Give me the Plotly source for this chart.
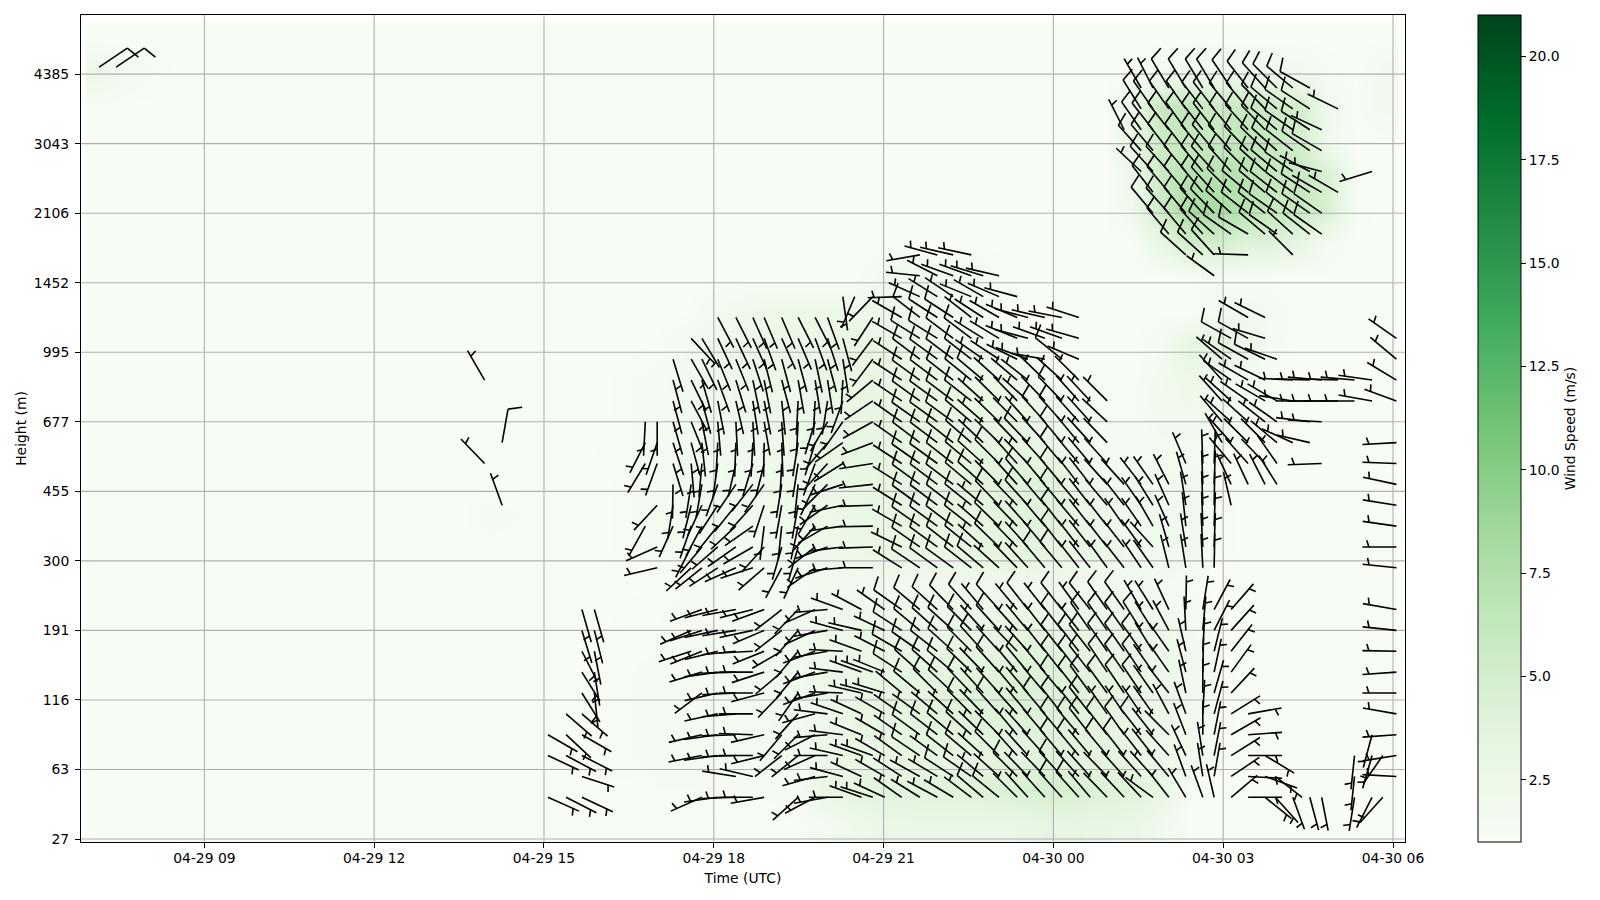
import math
import plotly.graph_objects as go

# Time is hours relative to 04-30 00 UTC; height is range-gate index.
X_TICKS = [-15, -12, -9, -6, -3, 0, 3, 6]
X_LABELS = ["04-29 09", "04-29 12", "04-29 15", "04-29 18", "04-29 21", "04-30 00", "04-30 03", "04-30 06"]
Y_TICKS = [0, 10, 20, 30, 40, 50, 60, 70, 80, 90, 100, 110]
Y_LABELS = ["27", "63", "116", "191", "300", "455", "677", "995", "1452", "2106", "3043", "4385"]

# Wind-speed field, coarse reading of the shading (bottom row first).
HEAT = [
[1]*26 + [1.5,2.2,2.8,2.8,2.8,2.8,2.8,3,3.2,3.2,3,2.8,2,1,1,1,1,1,1,1,1],
[1]*20 + [1.2,1.2,1.2,1.3,1.3,1.5,3,3.5,3.8,3.8,4,4,4.2,4.5,4.8,4.5,4.2,4,3.2,1.3,1,1,1,1,1,1,1],
[1]*18 + [1.2,1.2,1.3,1.3,1.4,1.5,1.5,1.7,2.5,3,3,3.2,3.2,3.2,3.5,3.5,4,3.5,3.5,3,2.5,2,1.2,1,1,1,1,1,1],
[1]*18 + [1.2,1.2,1.3,1.3,1.4,1.5,1.6,2,2.5,3,3.2,3.5,4,4,4,4,4,4,3.5,3,2.5,2,1.2,1,1,1,1,1,1],
[1]*18 + [1.2,1.2,1.3,1.3,1.4,1.5,1.7,2,2.5,3,3.2,3.5,3.5,4,4,4.5,4.2,4,3.5,3,2.5,2,1.2,1,1,1,1,1,1],
[1]*18 + [1.1,1.2,1.2,1.3,1.4,1.5,1.7,2,2.5,2.8,3,3.2,3.2,3.5,3.5,4,4,3.5,3.2,3,2.5,2,1.2,1,1,1,1,1,1],
[1]*19 + [1.2,1.2,1.3,1.3,1.4,1.7,2,2.2,2.5,2.5,2.5,2.5,2.8,3,3,3,2.8,2.8,2.5,2.2,1.5,1,1,1,1,1,1,1],
[1]*20 + [1.1,1.2,1.2,1.3,1.3,1.5,1.8,1.8,1.8,1.8,2,2,2,2,2,2,2,1.8,1.5,1.2,1,1,1,1,1,1,1],
[1]*19 + [1.2,1.3,1.4,1.5,1.6,1.7,1.8,2.5,2.5,3,3,3,3.2,3.5,3.5,3.5,3,2.5,2,2,2,1.2,1,1,1,1,1,1,1],
[1]*14 + [1.4,1.2,1,1,1,1.2,1.5,1.6,1.8,1.8,2,2,2.5,2.8,3,3.2,3.2,3.2,3.5,3.8,4,3,2.5,2,2,2,1.2,1,1,1,1,1,1],
[1]*19 + [1.2,1.5,1.7,1.8,2,2.2,2.3,2.8,3,3.2,3.2,3.2,3.5,3.8,4,4,3,2,1.8,1.5,2,1.3,1,1,1,1,1,1],
[1]*18 + [1.1,1.2,1.5,1.8,1.9,2,2.2,2.5,3,3,3.2,3.2,3.2,3.5,3.5,3.5,3.2,2,1.3,1.3,1.5,1.5,1.3,1,1,1,1,1,1],
[1]*19 + [1.2,1.4,1.8,2,2.2,2.5,2.5,2.8,3,3,3.2,3.2,3,3.2,3.2,2.8,1.5,1.2,1.2,1.8,2,2,1.5,1.2,1,1,1,1],
[1]*19 + [1.2,1.3,1.8,2,2.5,2.5,2.5,3,3,3,3.2,3,3,2.8,2.2,1.5,1,1,1,1.8,2.5,1.8,1.5,1.2,1,1,1,1],
[1]*20 + [1.1,1.6,2.2,2.5,2.8,2.8,3,3,3,2.8,2.5,2.2,2,1.5,1.1,1,1,1,1.5,3.2,3.8,2.5,1.3,1,1,1,1,1],
[1]*22 + [1.5,2,2.5,2.5,2.5,2.5,2.5,2.3,2,1.5,1.2,1.1,1,1,1,1,1,1,1.5,2,1.5,1,1,1,1,1,1],
[1]*28 + [1.8,2,2,1.7,1.3,1,1,1,1,1,1,1,1.5,1.2,1,1,1,1,1,1,1],
[1]*38 + [3,5,5,4,4,3,1.5,1,1],
[1]*37 + [2,5.5,8,8,7,6,6,4.5,1.2,1],
[1]*37 + [2.5,5.5,7,7,7,6,6,4.5,1.2,1],
[1]*37 + [3,5.5,6,6,6.5,6,5,2,1,1],
[1]*37 + [2.5,6,6.5,5.5,6,5.5,5,2,1.1,1.8],
[2.5,1.5,1.2] + [1]*35 + [1.5,2.2,2.2,2.2,2.2,1.8,1.2,1,1.8],
[1]*47,
]

# Barb columns: time, lowest gate, then direction (deg from) and speed (m/s)
# for every third gate upward.
BARB_TIME = [-16.86, -16.56, -10.05, -9.74, -8.93, -8.61, -8.33, -8.11, -7.21, -7.00, -6.72, -6.40,
             -6.21, -5.93, -5.61, -5.31, -5.11, -4.80, -4.51, -4.21, -3.99,
             -3.72, -3.51, -3.39, -3.19, -2.98, -2.68, -2.36, -2.05, -1.77, -1.45, -1.24, -0.96,
             -0.64, -0.45, -0.15, 0.15, 0.45, 0.65, 0.95, 1.25, 1.55, 1.76, 2.04, 2.34, 2.64, 2.84,
             3.14, 3.44, 3.74, 3.92, 4.23, 4.53, 4.74, 5.03, 5.32, 5.63, 5.82, 6.06,
             1.25, 1.55, 1.76, 2.04, 2.34, 2.64, 2.84, 3.14, 3.44, 3.74, 3.95, 4.23, 4.53, 4.74, 5.03, 5.63,
             3.14, 3.44, 3.74, 3.95, 4.23, 4.53, 4.74, 5.03, 5.32, 5.63, 2.98]
BARB_START = [111, 111, 54, 48, 6, 6, 6, 21, 45, 39, 45, 27,
              6, 6, 6, 6, 6, 12, 6, 6, 6,
              6, 78, 6, 6, 6, 6, 6, 6, 6, 6, 6, 6,
              6, 6, 6, 6, 6, 6, 6, 6, 6, 6, 6, 6, 6, 6,
              6, 6, 6, 6, 6, 6, 6, 6, 6, 6, 6, 9,
              102, 96, 90, 87, 84, 84, 81, 87, 84, 87, 87, 84, 87, 87, 93, 96,
              48, 51, 51, 51, 57, 57, 54, 63, 63, 63, 57]
BARB_DIR = [
[56], [56], [316,None,None,None,330], [340,None,None,10],
[114,None,115,120], [117,None,118,133,131], [115,108,117,120,131,148,148,153,163,164], [174,171,169,166,164],
[209,None,None,211,207,183], [257,246,None,223,None,200,199,180],
[204,189,181,163,162,164,165,165,163], [252,246,None,None,227,207,199,194,189,175,165,158,152,154,150,137],
[246,None,259,257,None,233,253,248,252,250,None,231,220,208,205,190,185,174,169,165,164,154,149],
[262,None,262,262,258,257,262,256,258,256,None,237,229,219,213,200,188,183,175,169,160,158,155,152],
[268,279,268,268,265,267,268,264,261,260,None,246,235,227,219,214,193,182,177,167,163,158,155,153],
[270,283,270,272,270,270,270,267,258,256,None,252,240,235,222,218,197,183,177,171,168,162,156,156],
[260,None,256,257,None,255,252,248,247,250,None,229,222,187,198,215,194,181,170,169,169,166,160,157],
[232,220,None,224,230,240,232,232,None,208,196,186,190,189,183,178,176,174,165,165,156,157],
[228,None,231,225,222,215,220,220,221,224,None,205,196,192,190,186,189,189,183,183,170,165,157,153],
[242,254,246,243,255,250,250,250,245,246,None,235,232,222,210,205,200,197,197,183,171,168,160,153],
[260,263,270,265,277,260,260,260,260,265,None,252,250,240,235,225,222,220,210,189,171,165,162,160],
[270,285,283,277,289,272,277,273,285,290,None,265,263,262,258,252,238,235,215,200,183,171,165,None,172],
[203],
[290,295,290,292,295,283,290,290,283,298],
[288,None,290,None,None,285,290,None,None,None,None,270,268,269,268,264,261,249,241,236,230,217,217,213,224],
[295,300,300,300,300,287,292,297,295,305],
[305,303,306,305,305,310,303,300,303,305,None,302,296,300,302,302,303,305,305,304,303,303,300,300,268],
[302,299,304,306,306,310,312,305,310,310,None,304,305,305,306,306,305,307,305,306,306,307,302,308,294,276,260],
[298,301,306,308,310,315,312,308,312,312,None,306,306,306,307,307,306,307,306,306,307,306,302,303,302,297,285],
[301,303,308,310,312,313,310,312,312,316,None,306,308,307,308,307,308,308,306,307,308,307,307,303,304,290,283],
[307,305,310,312,315,316,314,315,315,318,None,308,309,308,309,310,310,311,310,308,309,308,307,308,292,290,282],
[310,310,312,314,316,318,316,318,318,320,None,310,312,311,310,312,312,313,311,312,310,305,302,303,300,287],
[309,312,315,315,318,318,318,318,318,318,None,312,314,314,316,315,315,314,314,315,312,303,301,300,293,283],
[315,315,318,320,318,320,320,316,318,320,None,316,316,316,316,318,318,316,315,316,310,296,292,293,285],
[318,316,318,318,320,320,320,318,320,322,None,318,318,318,318,319,316,316,318,312,308,290,285,285],
[318,316,318,320,320,320,320,322,322,322,None,320,320,320,320,320,318,318,318,316,314,280,290,283],
[318,318,320,320,322,320,322,322,322,322,None,320,322,322,320,320,320,320,318,316,312,309,290,281],
[318,318,320,320,322,322,322,322,322,324,None,322,322,320,320,322,320,320,318,318,315,293,286,288],
[320,318,320,322,322,324,322,322,325,322,None,322,322,322,322,322,320,318,318,317],
[316,316,320,322,325,324,326,325,325,325,None,324,322,322,320,318,318,316,313,315],
[317,318,322,325,326,326,325,325,325,325,None,322,322,325,322,318],
[317,318,322,322,326,326,326,325,328,330,None,326,324,325,325,322],
[306,318,322,322,325,325,325,328,328,328,None,325,318,330,328,325],
[322,320,318,315,332,322,325,325,332,335,None,346,344,336,336,333],
[329,340,335,339,340,348,345,347,357,1,None,351,351,354,351,344,337],
[340,351,351,0,3,0,1,3,5,9,None,357,357,358,358,358,358],
[347,10,11,11,15,16,12,14,27,28,None,1,2,2,1,2,2],
[50,56,58,60,58,43,36,38,42,41],
[90,93,90,86,80], [129,110,121], [138,128], [160], [165], [169], [], [189,186,186], [207,None,196,195], [222,None,215],
[273,261,266,280,270,266,271,276,280,None,276,270,278,279,282,272,267,None,290,301,310,305],
[333],
[313,318,325,328,330],
[320,322,318,320,322,325,333],
[320,318,320,318,322,322,325,329],
[312,320,320,320,320,322,324,325,329],
[312,318,318,320,320,320,322,322,329],
[306,318,312,316,318,318,320,322,322,329],
[305,312,315,318,318,320,320,326],
[272,300,308,310,315,316,318,320,322],
[310,308,310,312,314,316,316,318],
[305,305,308,310,312,310,310,315],
[315,312,308,307,305,308,305,305,310],
[308,305,303,298,305,303,303,299],
[305,305,300,285,300,295],
[300,None,None,None,296],
[253],
[347,335,320,318,312,312,305,305,299],
[335,318,315,312,305,300,299,299,300],
[333,316,315,308,300,296,296,287,296],
[328,325,310,305,300,None,289],
[294,None,279,273],
[283,277,270,272],
[268,None,273,270,275],
[270,272], [270,275], [280,278],
[330,320,318,318,311],
]
BARB_SPEED = [
[6], [6], [3,0,0,0,3], [3,0,0,6],
[3,0,3,3], [3,0,3,3,3], [3,3,3,3,3,3,3,3,3,3], [3,3,3,3,3],
[3,0,0,3,3,3], [3,3,0,3,0,3,3,3],
[3,3,3,3,3,3,3,3,3], [3,3,0,0,3,3,3,3,3,3,3,3,3,3,3,3],
[3,0,3,3,0,3,3,3,3,3,0,3,3,3,3,3,3,3,3,3,3,3,3],
[3,0,3,3,3,3,3,3,3,3,0,3,3,3,3,3,3,3,3,3,3,3,3,3],
[3,3,3,3,3,3,3,3,3,3,0,3,3,3,3,3,3,3,3,3,3,3,3,3],
[3,3,3,3,3,3,3,3,3,3,0,3,3,3,3,3,3,3,3,3,3,3,3,3],
[3,0,3,3,0,3,3,3,3,3,0,3,3,3,3,3,3,3,3,3,3,3,3,3],
[3,3,0,3,3,3,3,3,0,3,3,3,3,3,3,3,3,3,3,3,3,3],
[3,0,3,3,3,3,3,3,3,3,0,3,3,3,3,3,3,3,3,3,3,3,3,3],
[3,3,3,3,3,3,3,3,3,3,0,3,3,3,3,3,3,3,3,3,3,3,3,3],
[3,3,3,3,3,3,3,3,3,3,0,3,3,3,3,3,3,3,3,3,3,3,3,3],
[3,3,3,3,3,3,3,3,3,3,0,3,3,3,3,3,3,3,3,3,3,3,3,0,3],
[3],
[3,3,3,3,3,3,3,3,3,3],
[3,0,3,0,0,3,3,0,0,0,0,3,3,3,3,3,3,3,3,3,3,3,3,3,3],
[3,3,3,3,3,3,3,3,3,3],
[3,3,3,3,3,3,6,6,6,6,0,3,3,3,3,3,3,3,3,3,3,3,3,3,3],
[3,3,6,6,3,6,6,6,6,6,0,6,6,6,6,6,6,6,6,6,6,6,6,6,3,3,3],
[3,3,3,6,3,6,6,6,6,6,0,6,6,6,6,6,6,6,6,6,6,6,6,6,3,3,3],
[3,6,6,6,3,6,6,6,6,6,0,6,6,6,6,6,6,6,6,6,6,6,6,6,3,3,3],
[3,6,6,6,6,6,6,6,6,6,0,6,6,6,6,6,6,6,6,6,6,6,6,3,3,3,3],
[6,3,3,3,3,3,3,6,3,3,0,6,3,3,3,6,6,3,3,3,6,3,3,3,3,3],
[6,3,6,3,6,3,6,3,6,6,0,3,6,6,6,3,6,3,3,3,3,3,3,3,3,3],
[3,6,3,3,3,3,3,3,3,3,0,3,3,3,3,3,3,3,3,3,3,3,3,3,3],
[3,3,3,3,3,3,6,3,3,6,0,3,3,3,6,6,3,6,3,3,3,3,3,3],
[3,3,3,3,6,3,3,3,3,3,0,6,3,3,3,3,3,3,6,3,3,3,3,3],
[6,6,6,6,6,6,6,6,6,6,0,6,6,6,6,6,6,6,6,6,3,6,3,3,3],
[6,3,6,6,3,6,6,6,3,3,0,3,3,3,3,3,3,3,3,3,3,3,3,3],
[3,3,3,6,6,6,6,6,6,6,0,3,3,3,3,3,3,3,3,3],
[3,3,6,6,3,6,6,6,6,6,0,3,3,3,3,3,3,3,3,3],
[3,3,6,6,3,6,6,6,6,6,0,3,3,3,3,3],
[3,3,3,6,3,6,6,6,6,3,0,3,3,3,3,3],
[3,3,3,3,3,3,3,3,3,3,0,3,3,3,3,3],
[3,3,3,3,3,3,3,3,3,3,0,3,3,3,3,3],
[3,3,3,3,3,3,3,3,3,3,0,3,3,3,3,3,3],
[3,3,3,3,3,3,3,3,3,3,0,3,3,3,3,3,3],
[3,3,3,3,3,3,3,3,3,3,0,3,3,3,3,3,3],
[3,3,3,3,3,3,3,3,3,3],
[3,3,3,3,3], [3,3,3], [3,3], [3], [3], [3], [], [3,3,3], [3,0,3,3], [3,0,3],
[3,3,3,3,3,3,3,3,3,0,3,3,3,3,3,3,3,0,3,3,3,3],
[3],
[3,6,6,6,3],
[6,6,6,6,6,6,3],
[6,6,6,6,6,6,6,6],
[6,6,6,6,6,6,6,6,6],
[6,6,6,6,6,6,6,6,6],
[3,6,6,6,6,6,6,6,6,6],
[6,6,6,6,6,6,6,6],
[3,6,6,6,6,6,6,6,6],
[6,6,6,6,6,6,6,6],
[6,6,6,6,6,6,6,6],
[3,6,6,6,6,6,6,6,6],
[6,6,6,3,6,6,6,6],
[6,6,3,3,6,3],
[3,0,0,0,3],
[3],
[3,3,3,3,3,3,3,3,6],
[3,3,3,3,3,3,6,6,3],
[3,3,3,3,3,3,6,3,3],
[3,3,3,3,3,0,3],
[3,0,3,3],
[3,3,3,3],
[3,0,3,3,3],
[3,3], [3,3], [3,3],
[3,3,3,3,3],
]

# Fixed drawing parameters.
PX_PER_HOUR = 56.6
PX_PER_GATE = 6.95
SHAFT = 34.0
GREENS = ["#f7fcf5", "#e5f5e0", "#c7e9c0", "#a1d99b", "#74c476", "#41ab5d", "#238b45", "#006d2c", "#00441b"]
XR = [-17.18, 6.212]
YR = [-0.43, 118.5]


def barb_segments(t, g, direction, speed):
    a = math.radians(direction)
    ax, ay = math.sin(a), math.cos(a)
    px, py = math.cos(a), -math.sin(a)
    def pt(ex, ey):
        return t + ex / PX_PER_HOUR, g + ey / PX_PER_GATE
    tip = (ax * SHAFT, ay * SHAFT)
    segs = [[pt(0, 0), pt(*tip)]]
    if speed >= 5:
        end = (tip[0] + px * 0.4 * SHAFT + ax * 0.125 * SHAFT, tip[1] + py * 0.4 * SHAFT + ay * 0.125 * SHAFT)
        segs.append([pt(*tip), pt(*end)])
    else:
        base = (tip[0] - ax * 0.19 * SHAFT, tip[1] - ay * 0.19 * SHAFT)
        end = (base[0] + px * 0.2 * SHAFT + ax * 0.0625 * SHAFT, base[1] + py * 0.2 * SHAFT + ay * 0.0625 * SHAFT)
        segs.append([pt(*base), pt(*end)])
    return segs


bx, by = [], []
for t, g0, dirs, speeds in zip(BARB_TIME, BARB_START, BARB_DIR, BARB_SPEED):
    for i, d in enumerate(dirs):
        if d is None:
            continue
        s = speeds[i] if i < len(speeds) else 3
        for seg in barb_segments(t, g0 + 3 * i, d, s):
            for (sx, sy) in seg:
                bx.append(sx)
                by.append(sy)
            bx.append(None)
            by.append(None)

gx, gy = [], []
for v in X_TICKS:
    gx += [v, v, None]
    gy += [YR[0], YR[1], None]
for v in Y_TICKS:
    gx += [XR[0], XR[1], None]
    gy += [v, v, None]

heat_rows = [(row + [1] * 47)[:47] for row in HEAT]

fig = go.Figure()
fig.add_trace(go.Heatmap(
    z=heat_rows, x0=-16.85, dx=0.4934, y0=1.96, dy=4.917, zsmooth="best",
    zmin=1.0, zmax=21, hoverinfo="skip",
    colorscale=[[i / 8, c] for i, c in enumerate(GREENS)],
    colorbar=dict(
        x=(1478 - 81) / 1324, xanchor="left", xpad=0, ypad=0, thickness=43, thicknessmode="pixels",
        y=0.5, yanchor="middle", len=1, lenmode="fraction", outlinecolor="black", outlinewidth=1,
        ticks="outside", ticklen=5, tickcolor="black", tickwidth=1,
        tickvals=[2.5, 5, 7.5, 10, 12.5, 15, 17.5, 20],
        ticktext=["2.5", "5.0", "7.5", "10.0", "12.5", "15.0", "17.5", "20.0"],
        tickfont=dict(family="DejaVu Sans", size=13.9, color="black"),
        title=dict(text="Wind Speed (m/s)", side="right", font=dict(family="DejaVu Sans", size=13.9, color="black")),
    ),
))
fig.add_trace(go.Scatter(x=gx, y=gy, mode="lines", line=dict(color="#b0b0b0", width=1.1),
                         hoverinfo="skip", showlegend=False))
fig.add_trace(go.Scatter(x=bx, y=by, mode="lines", line=dict(color="black", width=1.6),
                         hoverinfo="skip", showlegend=False))

axis_font = dict(family="DejaVu Sans", size=13.9, color="black")
fig.update_layout(
    width=1600, height=900, autosize=False,
    margin=dict(l=73, r=203, t=7, b=66),
    paper_bgcolor="white", plot_bgcolor="white", showlegend=False,
    font=axis_font,
    xaxis=dict(range=XR, tickvals=X_TICKS, ticktext=X_LABELS, showgrid=False, zeroline=False,
               showline=True, mirror=True, linecolor="black", linewidth=1,
               ticks="outside", ticklen=5, tickcolor="black", tickfont=axis_font, ticklabelstandoff=-2,
               title=dict(text="Time (UTC)", font=axis_font, standoff=8)),
    yaxis=dict(range=YR, tickvals=Y_TICKS, ticktext=Y_LABELS, showgrid=False, zeroline=False,
               showline=True, mirror=True, linecolor="black", linewidth=1,
               ticks="outside", ticklen=5, tickcolor="black", tickfont=axis_font, ticklabelstandoff=3,
               title=dict(text="Height (m)", font=axis_font, standoff=3)),
)
fig.write_html("out.html")
